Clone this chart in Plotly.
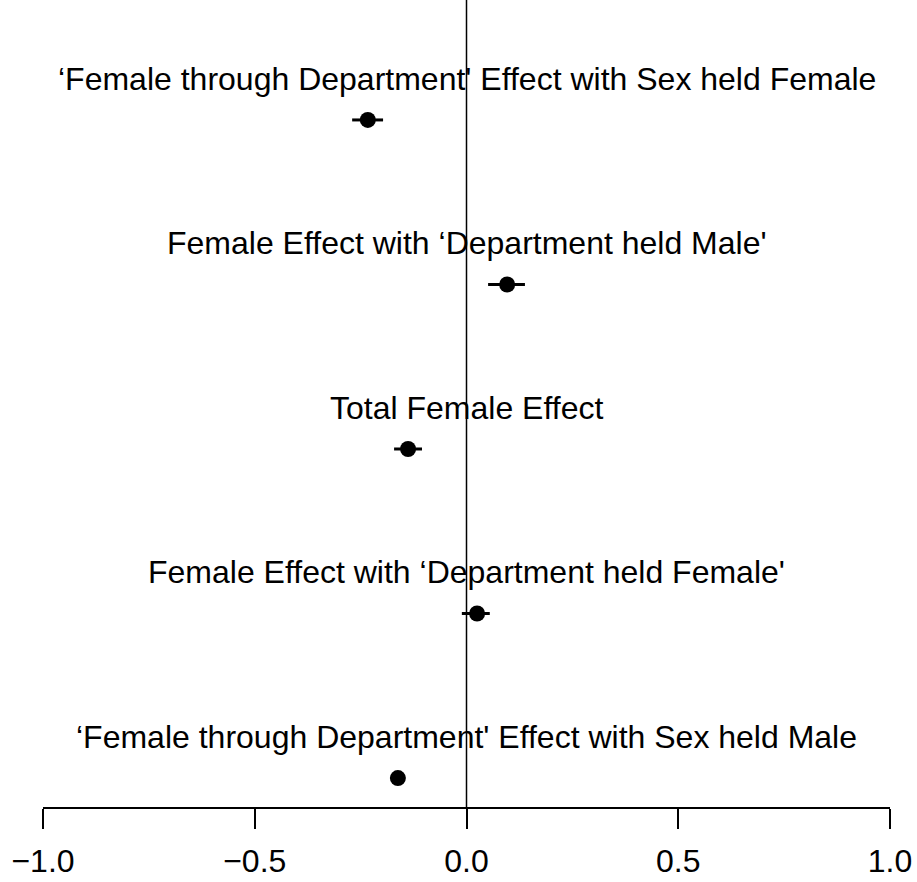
import plotly.graph_objects as go

labels = [
    "\u2018Female through Department' Effect with Sex held Male",
    "Female Effect with \u2018Department held Female'",
    "Total Female Effect",
    "Female Effect with \u2018Department held Male'",
    "\u2018Female through Department' Effect with Sex held Female",
]
positions = [1, 2, 3, 4, 5]
estimates = [-0.162, 0.025, -0.138, 0.096, -0.233]
ci_low = [-0.175, -0.011, -0.171, 0.051, -0.270]
ci_high = [-0.149, 0.055, -0.105, 0.138, -0.197]
tick_vals = [-1.0, -0.5, 0.0, 0.5, 1.0]
tick_text = ["\u22121.0", "\u22120.5", "0.0", "0.5", "1.0"]

err_plus = [h - e for h, e in zip(ci_high, estimates)]
err_minus = [e - l for e, l in zip(estimates, ci_low)]

fig = go.Figure()
fig.add_trace(go.Scatter(
    x=estimates, y=positions, mode="markers",
    marker=dict(color="black", size=16, symbol="circle"),
    error_x=dict(type="data", symmetric=False, array=err_plus, arrayminus=err_minus,
                 color="black", thickness=3, width=0),
    showlegend=False, hoverinfo="skip",
))

fig.add_shape(type="line", xref="x", yref="paper", x0=0, x1=0, y0=0, y1=1,
              line=dict(color="black", width=1.5))

for lab, p in zip(labels, positions):
    fig.add_annotation(x=0, y=p + 0.25, xref="x", yref="y", text=lab, showarrow=False,
                       xanchor="center", yanchor="middle",
                       font=dict(family="Liberation Sans, Arial", size=32, color="black"))

fig.update_layout(
    width=917, height=882,
    margin=dict(l=43, r=27, t=0, b=75),
    paper_bgcolor="white", plot_bgcolor="white",
    xaxis=dict(range=[-1, 1], tickvals=tick_vals, ticktext=tick_text,
               showline=True, linecolor="black", linewidth=1.5,
               ticks="outside", ticklen=20, tickwidth=1.5, tickcolor="black",
               ticklabelstandoff=5,
               showgrid=False, zeroline=False,
               tickfont=dict(family="Liberation Sans, Arial", size=32, color="black")),
    yaxis=dict(range=[0.824, 5.729], visible=False, showgrid=False, zeroline=False),
)

fig.write_html("out.html")
